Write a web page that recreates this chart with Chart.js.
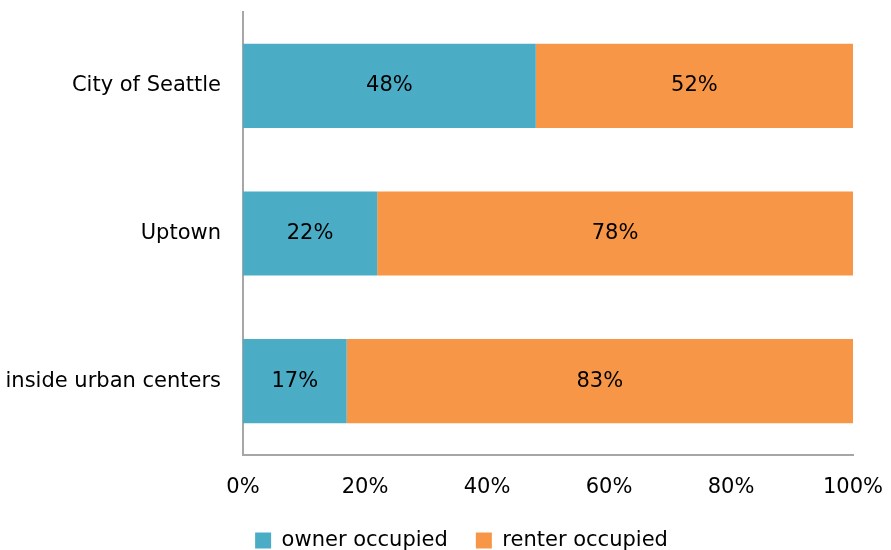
<!DOCTYPE html>
<html>
<head>
<meta charset="utf-8">
<script src="https://cdn.jsdelivr.net/npm/chart.js@4"></script>
<style>
  html, body { margin: 0; padding: 0; background: #fff; }
  #wrap { width: 891px; height: 550px; position: relative; }
</style>
</head>
<body>
<div id="wrap"><canvas id="tenure"></canvas></div>
<script>
// housing tenure shares by area
const areas = ['City of Seattle', 'Uptown', 'inside urban centers'];
const ownerShare = [48, 22, 17];
const renterShare = [52, 78, 83];
const xTicks = [0, 20, 40, 60, 80, 100];

const FONT = "'DejaVu Sans', sans-serif";

// write each segment's value in the middle of its bar
const barValues = {
    id: 'barValues',
    afterDatasetsDraw(chart) {
        const ctx = chart.ctx;
        ctx.save();
        ctx.fillStyle = '#000';
        ctx.font = `21px ${FONT}`;
        ctx.textAlign = 'center';
        ctx.textBaseline = 'middle';
        chart.data.datasets.forEach((ds, di) => {
            chart.getDatasetMeta(di).data.forEach((bar, i) => {
                const p = bar.getProps(['x', 'base', 'y'], true);
                ctx.fillText(ds.data[i] + '%', (p.x + p.base) / 2, p.y);
            });
        });
        ctx.restore();
    },
};

// fixed legend strip height, and nudge the legend right under the plot
const legendTweak = {
    id: 'legendTweak',
    afterInit(chart) {
        const lg = chart.legend;
        if (!lg) return;
        const fit = lg.fit;
        lg.fit = function () {
            fit.call(this);
            this.height = 55;
        };
        const draw = lg.draw;
        lg.draw = function () {
            const ctx = this.ctx;
            ctx.save();
            ctx.translate(35, 7);
            draw.call(this);
            ctx.restore();
        };
    },
};

new Chart(document.getElementById('tenure'), {
    type: 'bar',
    data: {
        labels: areas,
        datasets: [
            { label: 'owner occupied', data: ownerShare, backgroundColor: '#4BACC6' },
            { label: 'renter occupied', data: renterShare, backgroundColor: '#F79646' },
        ],
    },
    options: {
        indexAxis: 'y',
        responsive: true,
        maintainAspectRatio: false,
        animation: false,
        datasets: { bar: { categoryPercentage: 0.57, barPercentage: 1 } },
        layout: { padding: { top: 12, right: 38, left: 0, bottom: 0 } },
        plugins: {
            tooltip: { enabled: false },
            legend: {
                position: 'bottom',
                labels: {
                    color: '#000',
                    font: { family: FONT, size: 21 },
                    boxWidth: 16,
                    boxHeight: 16,
                    padding: 28,
                },
            },
        },
        scales: {
            x: {
                stacked: true,
                min: 0,
                max: 100,
                afterBuildTicks: (s) => { s.ticks = xTicks.map((v) => ({ value: v })); },
                ticks: {
                    color: '#000',
                    font: { family: FONT, size: 21 },
                    padding: 20,
                    callback: (v) => v + '%',
                },
                grid: { display: false, drawTicks: false },
                border: { color: '#a6a6a6', width: 2 },
                afterFit: (s) => {
                    s.height = 40;
                    s.paddingLeft = 0;
                    s.paddingRight = 0;
                },
            },
            y: {
                stacked: true,
                ticks: {
                    color: '#000',
                    font: { family: FONT, size: 21 },
                    padding: 22,
                },
                grid: { display: false, drawTicks: false },
                border: { color: '#a6a6a6', width: 2 },
                afterFit: (s) => {
                    s.width = 243;
                    s.paddingTop = 0;
                    s.paddingBottom = 0;
                },
            },
        },
    },
    plugins: [barValues, legendTweak],
});
</script>
</body>
</html>
